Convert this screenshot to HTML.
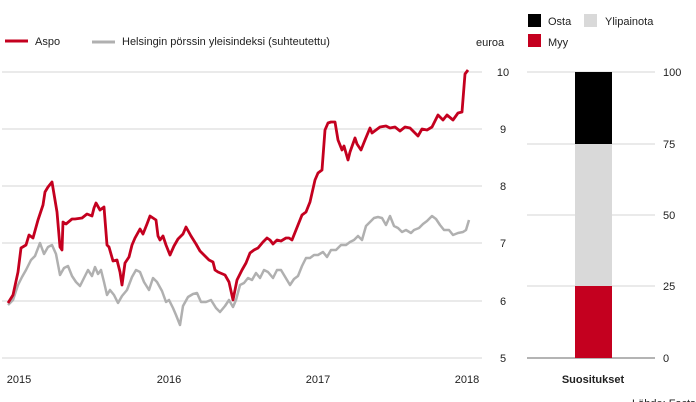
<!DOCTYPE html>
<html><head><meta charset="utf-8"><style>
html,body{margin:0;padding:0;background:#fff;width:696px;height:402px;overflow:hidden}
svg text{font-family:"Liberation Sans",sans-serif;font-size:11px;fill:#222}
</style></head><body>
<svg width="696" height="402" viewBox="0 0 696 402" xmlns="http://www.w3.org/2000/svg">
<g stroke="#ddd" stroke-width="1.3">
<line x1="2" y1="72" x2="482" y2="72"/><line x1="2" y1="129" x2="482" y2="129"/>
<line x1="2" y1="186" x2="482" y2="186"/><line x1="2" y1="243" x2="482" y2="243"/>
<line x1="2" y1="301" x2="482" y2="301"/><line x1="2" y1="358" x2="482" y2="358"/>
<line x1="527" y1="72" x2="655" y2="72"/><line x1="527" y1="144" x2="655" y2="144"/>
<line x1="527" y1="215" x2="655" y2="215"/><line x1="527" y1="286" x2="655" y2="286"/>
</g>
<line x1="527" y1="358" x2="655" y2="358" stroke="#888" stroke-width="1.3"/>
<g text-anchor="middle">
<text x="503" y="76">10</text><text x="503" y="133">9</text><text x="503" y="190">8</text>
<text x="503" y="247">7</text><text x="503" y="305">6</text><text x="503" y="362">5</text>
<text x="19" y="383">2015</text><text x="169" y="383">2016</text><text x="318" y="383">2017</text><text x="467" y="383">2018</text>
</g>
<text x="476" y="46">euroa</text>
<text x="663" y="76">100</text><text x="663" y="148">75</text><text x="663" y="219">50</text><text x="663" y="290">25</text><text x="663" y="362">0</text>
<line x1="5" y1="41" x2="28" y2="41" stroke="#c4001f" stroke-width="3"/>
<text x="35" y="45">Aspo</text>
<line x1="92" y1="42" x2="115" y2="42" stroke="#b0b0b0" stroke-width="3"/>
<text x="122" y="45">Helsingin pörssin yleisindeksi (suhteutettu)</text>
<rect x="528" y="14" width="13" height="13" fill="#000"/><text x="548" y="25">Osta</text>
<rect x="584" y="14" width="13" height="13" fill="#d9d9d9"/><text x="605" y="25">Ylipainota</text>
<rect x="528" y="34" width="13" height="13" fill="#c4001f"/><text x="548" y="46">Myy</text>
<rect x="575" y="72" width="37" height="72" fill="#000"/>
<rect x="575" y="144" width="37" height="142" fill="#d9d9d9"/>
<rect x="575" y="286" width="37" height="72" fill="#c4001f"/>
<text x="593" y="383" text-anchor="middle" font-weight="bold">Suositukset</text>
<text x="632" y="407" font-size="10">Lähde: Factset</text>
<polyline fill="none" stroke="#b0b0b0" stroke-width="2.5" stroke-linejoin="round" points="8,305 13,300 18,285 22,277 26,270 31,260 35,256 40,243 44,254 48,247 52,245 56,254 60,275 64,268 68,266 72,276 76,282 80,286 84,278 88,270 92,276 95,267 98,274 101,270 104,282 107,295 110,290 114,295 118,303 122,296 127,290 132,277 136,270 140,272 144,282 149,290 153,278 157,282 162,291 166,302 169,300 173,308 176,315 180,325 183,306 188,297 193,294 197,293 201,302 206,302 211,300 216,308 220,312 225,306 229,300 233,307 236,300 240,285 244,283 248,278 252,280 256,273 260,278 264,270 268,272 273,278 277,270 281,270 287,280 290,285 294,279 298,276 302,266 306,258 310,258 314,255 318,255 323,252 327,257 331,250 336,250 341,245 346,245 350,242 354,240 358,236 362,240 366,226 370,222 374,218 378,217 382,218 386,225 390,216 394,226 398,228 402,232 406,230 411,233 414,230 419,228 423,224 427,221 432,216 436,219 440,225 444,230 449,230 453,235 458,233 463,232 466,230 469,220"/>
<polyline fill="none" stroke="#c4001f" stroke-width="2.8" stroke-linejoin="round" points="8,303 13,295 18,272 21,248 26,245 29,235 33,238 38,220 43,205 45,192 48,187 52,182 57,212 60,247 62,250 63,222 66,224 72,219 75,219 82,218 87,214 92,216 94,208 96,203 100,210 104,207 107,245 109,247 113,261 117,260 120,272 122,285 125,263 129,257 132,245 135,238 140,229 143,234 147,224 150,216 153,218 156,220 158,236 160,240 163,236 166,245 170,255 174,246 178,239 183,234 186,227 191,236 196,244 200,251 205,256 209,260 213,262 215,270 218,272 225,275 229,282 233,300 237,280 242,270 246,263 250,253 254,250 258,248 263,242 267,238 270,240 273,244 277,240 281,241 286,238 289,238 292,240 296,230 302,215 306,212 310,202 315,180 318,173 322,170 325,130 328,123 331,122 335,122 338,140 342,150 344,146 348,160 350,152 355,138 357,144 361,150 365,140 370,128 372,133 376,130 380,127 386,126 390,128 395,127 400,131 405,127 410,128 415,133 418,136 422,129 427,130 432,127 438,115 443,120 447,115 453,120 458,113 462,112 465,74 468,70"/>
</svg>
</body></html>
